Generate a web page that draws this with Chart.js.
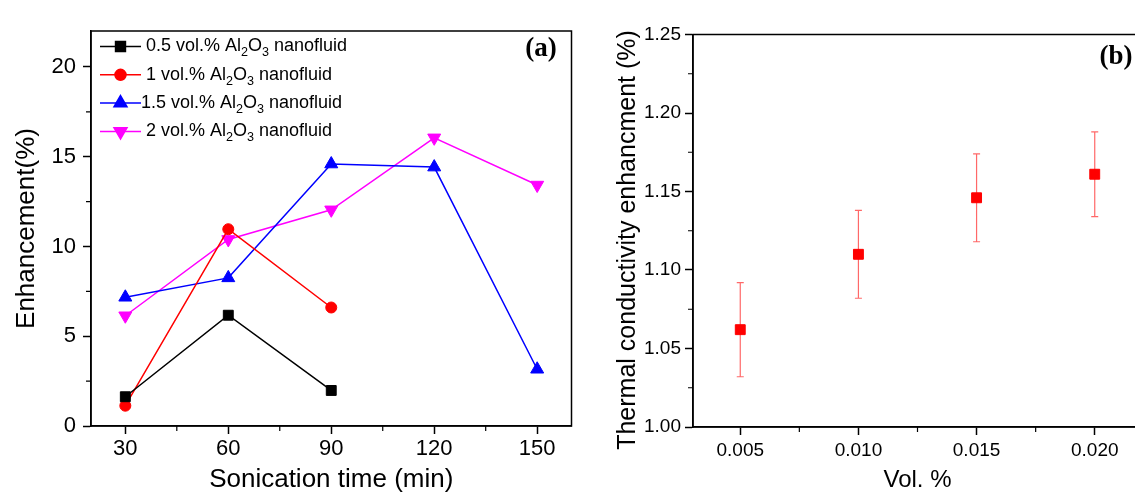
<!DOCTYPE html>
<html>
<head>
<meta charset="utf-8">
<script src="https://cdn.jsdelivr.net/npm/chart.js@4.4.1/dist/chart.umd.min.js"></script>
<style>
  html, body { margin: 0; padding: 0; background: #fff; overflow: hidden; width: 1135px; height: 495px; }
  #chartA { position: absolute; left: 0; top: 0; }
  #chartB { position: absolute; left: 580px; top: 0; }
</style>
</head>
<body>
<canvas id="chartA" width="580" height="495"></canvas>
<canvas id="chartB" width="570" height="495"></canvas>
<script>
// panel (a): enhancement vs sonication time
const sonicationTimes = [30, 60, 90, 120, 150];
const enh05 = [1.63, 6.17, 1.98, null, null];
const enh1 = [1.13, 10.96, 6.6, null, null];
const enh15 = [7.17, 8.25, 14.59, 14.42, 3.16];
const enh2 = [6.14, 10.39, 12.04, 16.05, 13.42];
const concLabels = ["0.5", "1", "1.5", "2"];
const timeTicks = [30, 60, 90, 120, 150];
const timeMinor = [45, 75, 105, 135];
const enhTicks = [0, 5, 10, 15, 20];
const enhMinor = [2.5, 7.5, 12.5, 17.5];

// panel (b): thermal conductivity vs vol. %
const volFractions = [0.005, 0.010, 0.015, 0.020];
const tcEnhancement = [1.062, 1.110, 1.146, 1.161];
const tcError = [0.030, 0.028, 0.028, 0.027];
const volTicks = [0.005, 0.010, 0.015, 0.020];
const volMinor = [0.0075, 0.0125, 0.0175];
const tcTicks = [1.00, 1.05, 1.10, 1.15, 1.20, 1.25];
const tcMinor = [1.025, 1.075, 1.125, 1.175, 1.225];

const FONT = "'Liberation Sans', Arial, sans-serif";
const SERIF_BOLD = "bold 27px 'Liberation Serif', 'Times New Roman', serif";

function pts(xs, ys) {
  return xs.map((x, i) => ({ x: x, y: ys[i] })).filter(p => p.y !== null);
}

function fixTicks(list) {
  return function (scale) { scale.ticks = list.map(v => ({ value: v })); };
}

// box around plot + short minor ticks
function frameAndMinor(chart, xMinor, yMinor) {
  const { ctx, chartArea: a, scales } = chart;
  ctx.save();
  ctx.strokeStyle = "#000";
  ctx.lineWidth = 1.5;
  ctx.strokeRect(a.left, a.top, a.right - a.left, a.bottom - a.top);
  ctx.lineWidth = 1.2;
  ctx.beginPath();
  xMinor.forEach(v => {
    const px = scales.x.getPixelForValue(v);
    ctx.moveTo(px, a.bottom); ctx.lineTo(px, a.bottom + 5);
  });
  yMinor.forEach(v => {
    const py = scales.y.getPixelForValue(v);
    ctx.moveTo(a.left, py); ctx.lineTo(a.left - 5, py);
  });
  ctx.stroke();
  ctx.restore();
}

// text with Al2O3 subscripts
function drawFormulaText(ctx, text, x, y, size) {
  const parts = text.split("Al2O3");
  const segs = [[parts[0] + "Al", false], ["2", true], ["O", false], ["3", true], [parts[1], false]];
  ctx.textBaseline = "middle";
  ctx.textAlign = "left";
  segs.forEach(([s, sub]) => {
    ctx.font = (sub ? size * 0.7 : size) + "px " + FONT;
    ctx.fillText(s, x, sub ? y + size * 0.35 : y);
    x += ctx.measureText(s).width;
  });
}

const panelA = {
  id: "panelA",
  afterDraw(chart) {
    frameAndMinor(chart, timeMinor, enhMinor);
    const ctx = chart.ctx;
    ctx.save();
    chart.data.datasets.forEach((ds, i) => {
      const y = 46.5 + i * 28.3;
      ctx.strokeStyle = ds.borderColor;
      ctx.fillStyle = ds.borderColor;
      ctx.lineWidth = 1.5;
      ctx.beginPath();
      ctx.moveTo(100, y); ctx.lineTo(141, y);
      ctx.stroke();
      Chart.helpers.drawPoint(ctx, { pointStyle: ds.pointStyle, radius: ds.pointRadius, rotation: ds.pointRotation || 0, borderWidth: 1 }, 120.5, y);
      ctx.fillStyle = "#000";
      drawFormulaText(ctx, concLabels[i] + " vol.% Al2O3 nanofluid", i === 2 ? 141 : 146, y, 18);
    });
    ctx.font = SERIF_BOLD;
    ctx.textAlign = "center";
    ctx.textBaseline = "middle";
    ctx.fillText("(a)", 541, 49);
    ctx.restore();
  }
};

const panelB = {
  id: "panelB",
  beforeDatasetsDraw(chart) {
    const { ctx, scales } = chart;
    ctx.save();
    ctx.strokeStyle = "rgba(255, 40, 40, 0.7)";
    ctx.lineWidth = 1.2;
    ctx.beginPath();
    volFractions.forEach((v, i) => {
      const px = scales.x.getPixelForValue(v);
      const top = scales.y.getPixelForValue(tcEnhancement[i] + tcError[i]);
      const bot = scales.y.getPixelForValue(tcEnhancement[i] - tcError[i]);
      ctx.moveTo(px, top); ctx.lineTo(px, bot);
      ctx.moveTo(px - 3.5, top); ctx.lineTo(px + 3.5, top);
      ctx.moveTo(px - 3.5, bot); ctx.lineTo(px + 3.5, bot);
    });
    ctx.stroke();
    ctx.restore();
  },
  afterDraw(chart) {
    frameAndMinor(chart, volMinor, tcMinor);
    const ctx = chart.ctx;
    ctx.save();
    ctx.fillStyle = "#000";
    ctx.textAlign = "center";
    ctx.textBaseline = "middle";
    // y axis title, sits a little below the plot centre in the original
    ctx.translate(48, 240);
    ctx.rotate(-Math.PI / 2);
    ctx.font = "25px " + FONT;
    ctx.fillText("Thermal conductivity enhancment (%)", 0, 0);
    ctx.restore();
    ctx.save();
    ctx.font = SERIF_BOLD;
    ctx.textAlign = "center";
    ctx.textBaseline = "middle";
    ctx.fillStyle = "#000";
    ctx.fillText("(b)", 1116 - 580, 57);
    ctx.restore();
  }
};

function axisGrid() {
  return {
    display: true,
    drawOnChartArea: false,
    drawTicks: true,
    tickLength: 8,
    tickColor: "#000",
    tickWidth: 1.5
  };
}

const seriesA = [
  { values: enh05, color: "#000000", style: "rect", radius: 7, rot: 0 },
  { values: enh1, color: "#ff0000", style: "circle", radius: 5.5, rot: 0 },
  { values: enh15, color: "#0000ff", style: "triangle", radius: 7.5, rot: 0 },
  { values: enh2, color: "#ff00ff", style: "triangle", radius: 7.5, rot: 180 }
];

new Chart(document.getElementById("chartA"), {
  type: "line",
  data: {
    datasets: seriesA.map((s, i) => ({
      label: concLabels[i] + " vol.% Al2O3 nanofluid",
      data: pts(sonicationTimes, s.values),
      borderColor: s.color,
      backgroundColor: s.color,
      borderWidth: 1.5,
      pointStyle: s.style,
      pointRotation: s.rot,
      pointRadius: s.radius,
      pointBorderWidth: 1,
      tension: 0
    }))
  },
  options: {
    responsive: false,
    animation: false,
    devicePixelRatio: 1,
    layout: { padding: { left: 0, top: 31, right: 8, bottom: 0 } },
    plugins: { legend: { display: false }, tooltip: { enabled: false } },
    scales: {
      x: {
        type: "linear",
        min: 20, max: 160,
        afterBuildTicks: fixTicks(timeTicks),
        afterFit(scale) { scale.height = 69; },
        grid: axisGrid(),
        border: { display: true, color: "#000", width: 1.5 },
        ticks: { color: "#000", font: { family: FONT, size: 22 }, padding: 2, maxRotation: 0 },
        title: { display: true, text: "Sonication time (min)", color: "#000", font: { family: FONT, size: 26 }, padding: { top: 0, bottom: 0 } }
      },
      y: {
        type: "linear",
        min: 0, max: 22,
        afterBuildTicks: fixTicks(enhTicks),
        afterFit(scale) { scale.width = 91; },
        grid: axisGrid(),
        border: { display: true, color: "#000", width: 1.5 },
        ticks: { color: "#000", font: { family: FONT, size: 22 }, padding: 7 },
        title: { display: true, text: "Enhancement(%)", color: "#000", font: { family: FONT, size: 26 }, padding: { top: 11, bottom: 0 } }
      }
    }
  },
  plugins: [panelA]
});

new Chart(document.getElementById("chartB"), {
  type: "scatter",
  data: {
    datasets: [{
      label: "Thermal conductivity enhancment",
      data: pts(volFractions, tcEnhancement),
      borderColor: "#ff0000",
      backgroundColor: "#ff0000",
      pointStyle: "rect",
      pointRadius: 7,
      pointBorderWidth: 1
    }]
  },
  options: {
    responsive: false,
    animation: false,
    devicePixelRatio: 1,
    layout: { padding: { left: 0, top: 34.5, right: 5.5, bottom: 0 } },
    plugins: { legend: { display: false }, tooltip: { enabled: false } },
    scales: {
      x: {
        type: "linear",
        min: 0.003, max: 0.022,
        afterBuildTicks: fixTicks(volTicks),
        afterFit(scale) { scale.height = 68; },
        grid: axisGrid(),
        border: { display: true, color: "#000", width: 1.5 },
        ticks: { color: "#000", font: { family: FONT, size: 19 }, padding: 4, maxRotation: 0,
          callback: v => v.toFixed(3) },
        title: { display: true, text: "Vol. %", color: "#000", font: { family: FONT, size: 24 }, padding: { top: 0, bottom: 0 } }
      },
      y: {
        type: "linear",
        min: 1.0, max: 1.25,
        afterBuildTicks: fixTicks(tcTicks),
        afterFit(scale) { scale.width = 113; },
        grid: axisGrid(),
        border: { display: true, color: "#000", width: 1.5 },
        ticks: { color: "#000", font: { family: FONT, size: 19 }, padding: 4,
          callback: v => v.toFixed(2) },
        title: { display: false }
      }
    }
  },
  plugins: [panelB]
});
</script>
</body>
</html>
